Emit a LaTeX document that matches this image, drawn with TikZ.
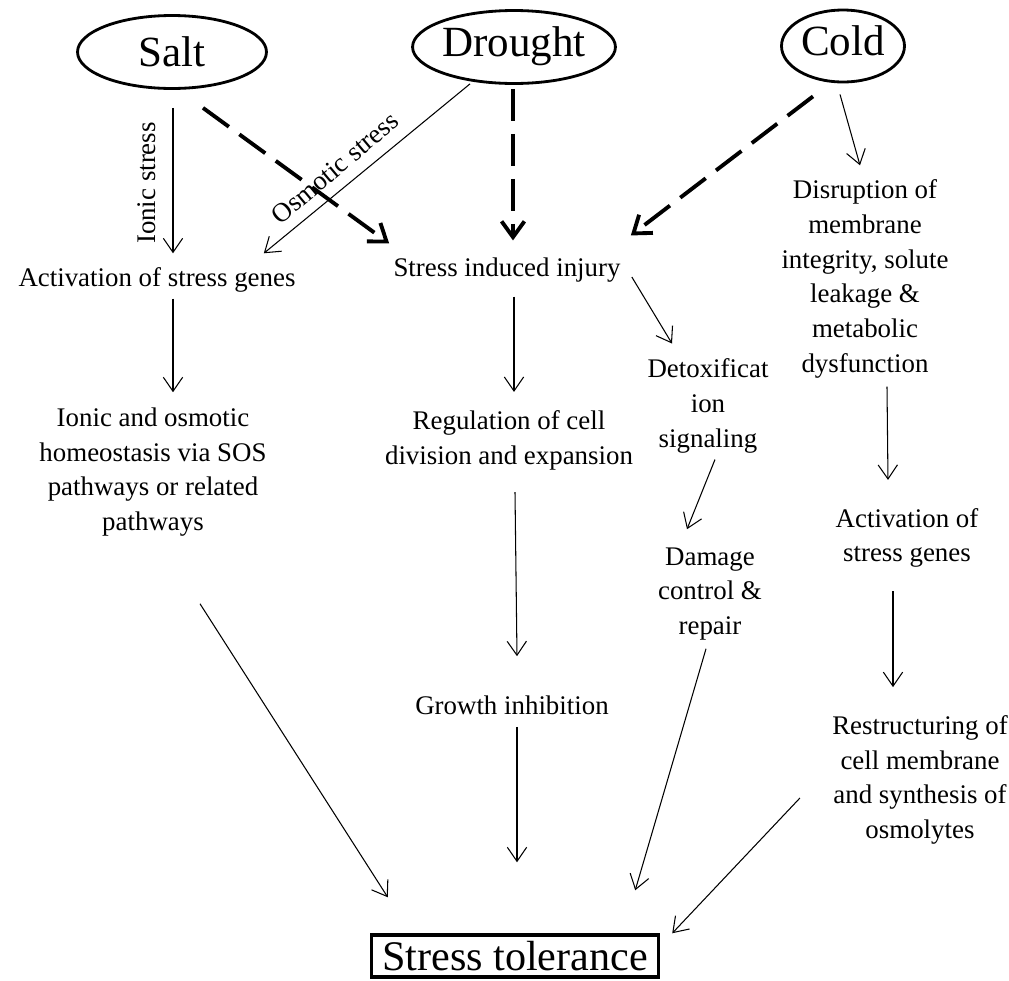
\documentclass[tikz,border=0pt]{standalone}
\usepackage{fontspec}
\setmainfont{Liberation Serif}
\usetikzlibrary{shapes.geometric,arrows.meta}

\begin{document}
\begin{tikzpicture}[x=0.02cm,y=-0.02cm,
        stressor/.style={draw,ellipse,line width=1.6pt,inner sep=0pt,text height=11pt,text depth=0pt,font=\fontsize{24.5}{28}\selectfont},
        txt/.style={inner sep=0pt,align=center,font=\fontsize{15.3}{19.8}\selectfont},
        arr/.style={line width=0.6pt,-{Straight Barb[length=8pt,width=11pt]}},
        dasharr/.style={line width=2.2pt,dash pattern=on 0.64cm off 0.26cm,-{Straight Barb[length=9pt,width=13pt]}}]
            \useasboundingbox (0,0) rectangle (1009,981);
            \node[stressor,text height=17pt,minimum width=3.78cm,minimum height=1.46cm] (salt) at (172,52) {Salt};
            \node[stressor,minimum width=4.04cm,minimum height=1.46cm] (drought) at (514,47) {Drought};
            \node[stressor,minimum width=2.46cm,minimum height=1.44cm] (cold) at (843,46) {Cold};
            \node[txt,rotate=90] (ionic) at (147,183) {Ionic stress};
            \node[txt,rotate=40] (osm) at (335,168) {Osmotic stress};
            \node[txt] (actS) at (157,280) {Activation of stress genes};
            \node[txt] (injury) at (507,270) {Stress induced injury};
            \node[txt] (disrupt) at (865,279) {Disruption of\\membrane\\integrity, solute\\leakage \&\\metabolic\\dysfunction};
            \node[txt] (homeo) at (153,472) {Ionic and osmotic\\homeostasis via SOS\\pathways or related\\pathways};
            \node[txt] (regul) at (509,440) {Regulation of cell\\division and expansion};
            \node[txt] (detox) at (708,406) {Detoxificat\\ion\\signaling};
            \node[txt] (damage) at (710,594) {Damage\\control \&\\repair};
            \node[txt] (actC) at (907,538) {Activation of\\stress genes};
            \node[txt] (restr) at (920,780) {Restructuring of\\cell membrane\\and synthesis of\\osmolytes};
            \node[txt] (growth) at (512,705) {Growth inhibition};
            \node[draw,line width=2pt,inner sep=0pt,minimum width=5.74cm,minimum height=0.84cm,font=\fontsize{24}{28}\selectfont] (tol) at (515,956) {Stress tolerance};
            % stress inputs
            \draw[arr] ([shift={(1,18)}]salt.south) -- ([shift={(16,-14)}]actS.north);
            \draw[arr] ([shift={(-44,-1)}]drought.south) -- ([shift={(-32,-14)}]actS.north east);
            \draw[arr] ([shift={(-3,11)}]cold.south) -- ([shift={(-5,-14)}]disrupt.north);
            \draw[dasharr] ([shift={(31,18)}]salt.south) -- ([shift={(-4,-14)}]injury.north west);
            \draw[dasharr] ([shift={(-1,4)}]drought.south) -- ([shift={(6,-17)}]injury.north);
            \draw[dasharr] ([shift={(-30,13)}]cold.south) -- ([shift={(10,-22)}]injury.north east);
            % responses
            \draw[arr] ([shift={(16,6)}]actS.south) -- ([shift={(20,-15)}]homeo.north);
            \draw[arr] ([shift={(7,14)}]injury.south) -- ([shift={(5,-18)}]regul.north);
            \draw[arr] ([shift={(11,7)}]injury.east) -- ([shift={(-36,-15)}]detox.north);
            \draw[arr] ([shift={(7,6)}]detox.south) -- ([shift={(-23,-18)}]damage.north);
            \draw[arr] ([shift={(22,8)}]disrupt.south) -- ([shift={(-19,-28)}]actC.north);
            \draw[arr] ([shift={(-14,23)}]actC.south) -- ([shift={(-27,-28)}]restr.north);
            \draw[arr] ([shift={(6,22)}]regul.south) -- ([shift={(5,-39)}]growth.north);
            % tolerance
            \draw[arr] ([shift={(5,12)}]growth.south) -- ([shift={(2,-71)}]tol.north);
            \draw[arr] ([shift={(47,67)}]homeo.south) -- ([shift={(18,-36)}]tol.north west);
            \draw[arr] ([shift={(-4,8)}]damage.south) -- ([shift={(-25,-43)}]tol.north east);
            \draw[arr] ([shift={(-32,18)}]restr.west) -- ([shift={(12,0)}]tol.north east);
        \end{tikzpicture}
\end{document}
